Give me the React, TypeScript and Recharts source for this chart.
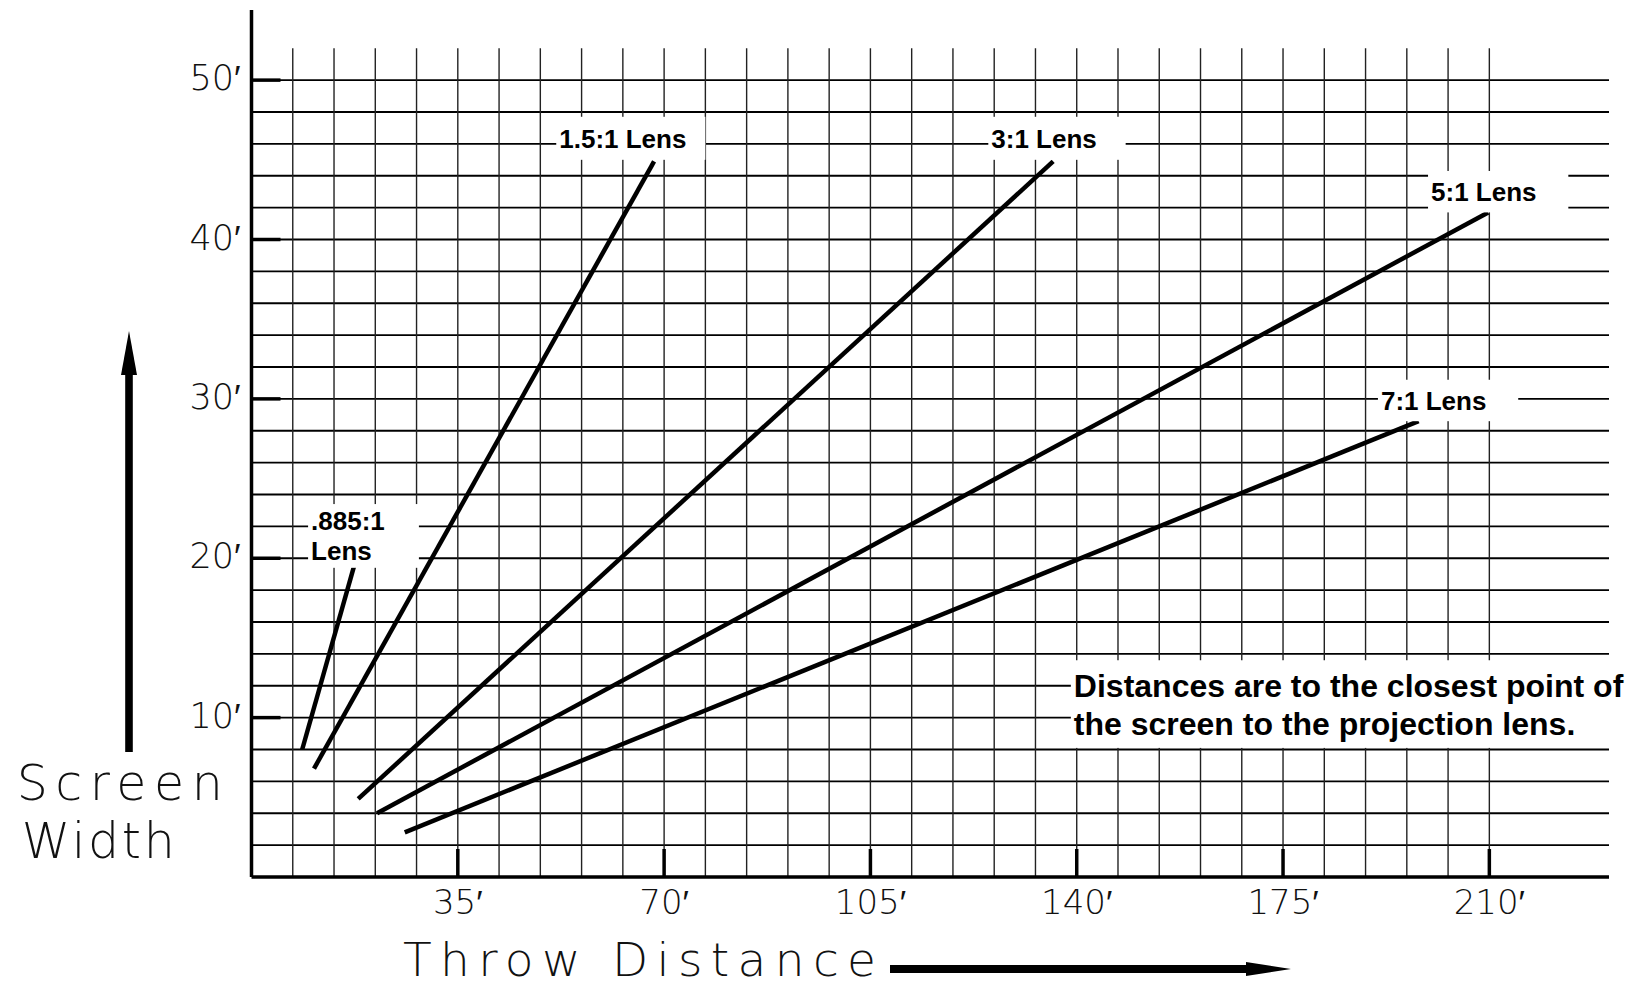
import { ComposedChart, Line, XAxis, YAxis, ReferenceLine, ReferenceArea } from 'recharts'

// tick and grid values (feet)
const throwTicks = [35, 70, 105, 140, 175, 210]
const widthTicks = [10, 20, 30, 40, 50]
const throwGrid = [
  7, 14, 21, 28, 35, 42, 49, 56, 63, 70, 77, 84, 91, 98, 105,
  112, 119, 126, 133, 140, 147, 154, 161, 168, 175, 182, 189, 196, 203, 210,
]
const widthGrid = [2, 4, 6, 8, 10, 12, 14, 16, 18, 20, 22, 24, 26, 28, 30, 32, 34, 36, 38, 40, 42, 44, 46, 48, 50]

// lens lines: throw distance (ft) vs screen width (ft)
const lensNames = ['.885:1', '1.5:1', '3:1', '5:1', '7:1']
const lensThrow = [
  [8.6, 17.4],
  [10.6, 68.3],
  [18.1, 136.0],
  [21.3, 209.8],
  [26.0, 198.0],
]
const lensWidth = [
  [8.0, 19.5],
  [6.8, 44.9],
  [4.9, 44.9],
  [4.0, 41.7],
  [2.8, 28.6],
]

const series = lensNames.map((name, i) => ({
  name,
  points: lensThrow[i].map((t, j) => ({ throw: t, width: lensWidth[i][j] })),
}))

// white label boxes sitting on the grid
const notes = [
  { lines: ['.885:1', 'Lens'], x1: 9.6, x2: 28.4, y1: 19.4, y2: 23.4, size: 26, gap: 30 },
  { lines: ['1.5:1 Lens'], x1: 51.7, x2: 77.0, y1: 45.0, y2: 47.7, size: 26, gap: 0 },
  { lines: ['3:1 Lens'], x1: 125.0, x2: 148.3, y1: 45.0, y2: 47.7, size: 26, gap: 0 },
  { lines: ['5:1 Lens'], x1: 199.6, x2: 223.4, y1: 41.7, y2: 44.3, size: 26, gap: 0 },
  { lines: ['7:1 Lens'], x1: 191.1, x2: 214.9, y1: 28.6, y2: 31.2, size: 26, gap: 0 },
  {
    lines: ['Distances are to the closest point of', 'the screen to the projection lens.'],
    x1: 139.0, x2: 230.3, y1: 8.1, y2: 13.6, size: 32, gap: 38,
  },
]

const CAD_FONT = "'DejaVu Sans', sans-serif"
const BOLD_FONT = "'Liberation Sans', Arial, sans-serif"

function ThrowTick({ x, y, payload }: any) {
  return (
    <g>
      <line x1={x} y1={y} x2={x} y2={y - 28} stroke="#000" strokeWidth={3.5} />
      <text x={x} y={y + 37} textAnchor="middle" fontFamily={CAD_FONT} fontWeight={200} fontSize={34} fill="#111">
        {payload.value}′
      </text>
    </g>
  )
}

function WidthTick({ x, y, payload }: any) {
  return (
    <g>
      <line x1={x} y1={y} x2={x + 29} y2={y} stroke="#000" strokeWidth={3.5} />
      <text x={x - 11} y={y + 10} textAnchor="end" fontFamily={CAD_FONT} fontWeight={200} fontSize={35} fill="#111">
        {payload.value}′
      </text>
    </g>
  )
}

function NoteBox(props: any) {
  const { x, y, width, height, note } = props
  const mid = y + height / 2
  return (
    <g>
      <rect x={x} y={y} width={width} height={height} fill="#fff" />
      {note.lines.map((line: string, i: number) => (
        <text
          key={i}
          x={x + 3}
          y={mid + (i - (note.lines.length - 1) / 2) * note.gap + note.size * 0.358}
          fontFamily={BOLD_FONT}
          fontWeight="bold"
          fontSize={note.size}
          fill="#000"
        >
          {line}
        </text>
      ))}
    </g>
  )
}

export default function App() {
  return (
    <div style={{ position: 'absolute', left: 0, top: 0, width: 1634, height: 987, background: '#fff' }}>
      <ComposedChart width={1634} height={987} margin={{ top: 10, right: 25, bottom: 50, left: 51.5 }}>
        <XAxis
          type="number"
          dataKey="throw"
          domain={[0, 230.3]}
          ticks={throwTicks}
          interval={0}
          allowDataOverflow
          height={60}
          tickSize={0}
          tickMargin={0}
          tickLine={false}
          axisLine={{ stroke: '#000', strokeWidth: 3.5 }}
          tick={(p: any) => <ThrowTick {...p} />}
        />
        <YAxis
          type="number"
          domain={[0, 54.4]}
          ticks={widthTicks}
          interval={0}
          allowDataOverflow
          width={200}
          tickSize={0}
          tickMargin={0}
          tickLine={false}
          axisLine={{ stroke: '#000', strokeWidth: 3.5 }}
          tick={(p: any) => <WidthTick {...p} />}
        />
        {widthGrid.map((v) => (
          <ReferenceLine key={'h' + v} y={v} stroke="#000" strokeWidth={1.8} zIndex={-60} />
        ))}
        {throwGrid.map((v) => (
          <ReferenceLine
            key={'v' + v}
            segment={[{ x: v, y: 0 }, { x: v, y: 52 }]}
            stroke="#222"
            strokeWidth={1.4}
            zIndex={-60}
          />
        ))}
        {notes.map((n, i) => (
          <ReferenceArea
            key={'n' + i}
            x1={n.x1}
            x2={n.x2}
            y1={n.y1}
            y2={n.y2}
            ifOverflow="visible"
            zIndex={450}
            shape={(p: any) => <NoteBox {...p} note={n} />}
          />
        ))}
        {series.map((s) => (
          <Line
            key={s.name}
            name={s.name}
            data={s.points}
            dataKey="width"
            type="linear"
            stroke="#000"
            strokeWidth={4.5}
            strokeLinecap="butt"
            dot={false}
            activeDot={false}
            isAnimationActive={false}
          />
        ))}
      </ComposedChart>
      <svg width={1634} height={987} style={{ position: 'absolute', left: 0, top: 0, pointerEvents: 'none' }}>
        <rect x={125.2} y={372} width={7.6} height={380} fill="#000" />
        <polygon points="129,331 121,375 137,375" fill="#000" />
        <text x={16.7} y={799.7} textLength={206} lengthAdjust="spacing" fontFamily={CAD_FONT} fontWeight={200} fontSize={49} fill="#111">
          Screen
        </text>
        <text x={21.7} y={858} textLength={153} lengthAdjust="spacing" fontFamily={CAD_FONT} fontWeight={200} fontSize={49} fill="#111">
          Width
        </text>
        <text x={403} y={975.5} textLength={473} lengthAdjust="spacing" fontFamily={CAD_FONT} fontWeight={200} fontSize={47} fill="#111">
          Throw Distance
        </text>
        <rect x={890} y={965} width={358} height={8} fill="#000" />
        <polygon points="1291,969 1246,962 1246,976" fill="#000" />
      </svg>
    </div>
  )
}
